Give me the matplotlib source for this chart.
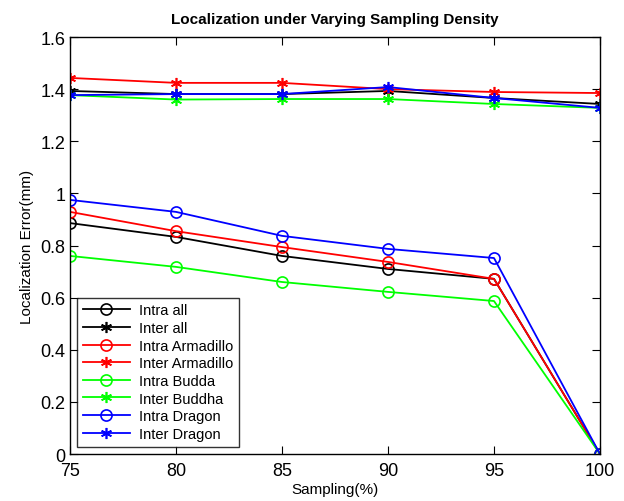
import matplotlib
matplotlib.use("Agg")
import matplotlib.pyplot as plt

plt.rcParams['font.family'] = ['Liberation Sans', 'DejaVu Sans']

sampling = [75, 80, 85, 90, 95, 100]
intra_all = [0.886, 0.833, 0.760, 0.710, 0.672, 0.0]
inter_all = [1.393, 1.381, 1.381, 1.393, 1.366, 1.343]
intra_armadillo = [0.929, 0.855, 0.794, 0.737, 0.672, 0.0]
inter_armadillo = [1.443, 1.424, 1.424, 1.400, 1.389, 1.385]
intra_budda = [0.760, 0.718, 0.660, 0.622, 0.587, 0.0]
inter_buddha = [1.377, 1.360, 1.362, 1.362, 1.343, 1.328]
intra_dragon = [0.975, 0.929, 0.837, 0.787, 0.752, 0.0]
inter_dragon = [1.377, 1.381, 1.381, 1.408, 1.366, 1.328]

labels = ["Intra all", "Inter all", "Intra Armadillo", "Inter Armadillo",
          "Intra Budda", "Inter Buddha", "Intra Dragon", "Inter Dragon"]
series = [intra_all, inter_all, intra_armadillo, inter_armadillo,
          intra_budda, inter_buddha, intra_dragon, inter_dragon]
colors = ["black", "black", "red", "red", "#00ff00", "#00ff00", "blue", "blue"]
markers = ["o", "*", "o", "*", "o", "*", "o", "*"]

fig = plt.figure(figsize=(6.24, 5.02), dpi=100)
ax = fig.add_axes([0.1122, 0.0936, 0.8493, 0.8307])

for y, lab, c, m in zip(series, labels, colors, markers):
    if m == "o":
        ax.plot(sampling, y, color=c, marker="o", markerfacecolor="none",
                markeredgecolor=c, markersize=8, markeredgewidth=1.2,
                linewidth=1.3, label=lab)
    else:
        ax.plot(sampling, y, color=c, marker=(6, 2, 0), markersize=8,
                markeredgewidth=1.2, linewidth=1.3, label=lab)

ax.set_xlim(75, 100)
ax.set_ylim(0, 1.6)
ax.set_xticks(sampling)
ax.set_yticks([0, 0.2, 0.4, 0.6, 0.8, 1.0, 1.2, 1.4, 1.6])
ax.set_yticklabels(["0", "0.2", "0.4", "0.6", "0.8", "1", "1.2", "1.4", "1.6"])
ax.tick_params(direction="in", length=6, labelsize=13, top=True, right=True)
ax.tick_params(axis="x", pad=6)
for s in ax.spines.values():
    s.set_linewidth(1.0)

ax.set_xlabel("Sampling(%)", fontsize=11, labelpad=2)
ax.set_ylabel("Localization Error(mm)", fontsize=11)
ax.set_title("Localization under Varying Sampling Density", fontsize=11,
             fontweight="bold", pad=10)

leg = ax.legend(loc="lower left", fontsize=10.5, frameon=True, fancybox=False,
                edgecolor="black", borderaxespad=0.5, handlelength=3.2,
                labelspacing=0.25, borderpad=0.4, handletextpad=0.6)
leg.get_frame().set_linewidth(1.0)

fig.savefig("out.png", dpi=100)
